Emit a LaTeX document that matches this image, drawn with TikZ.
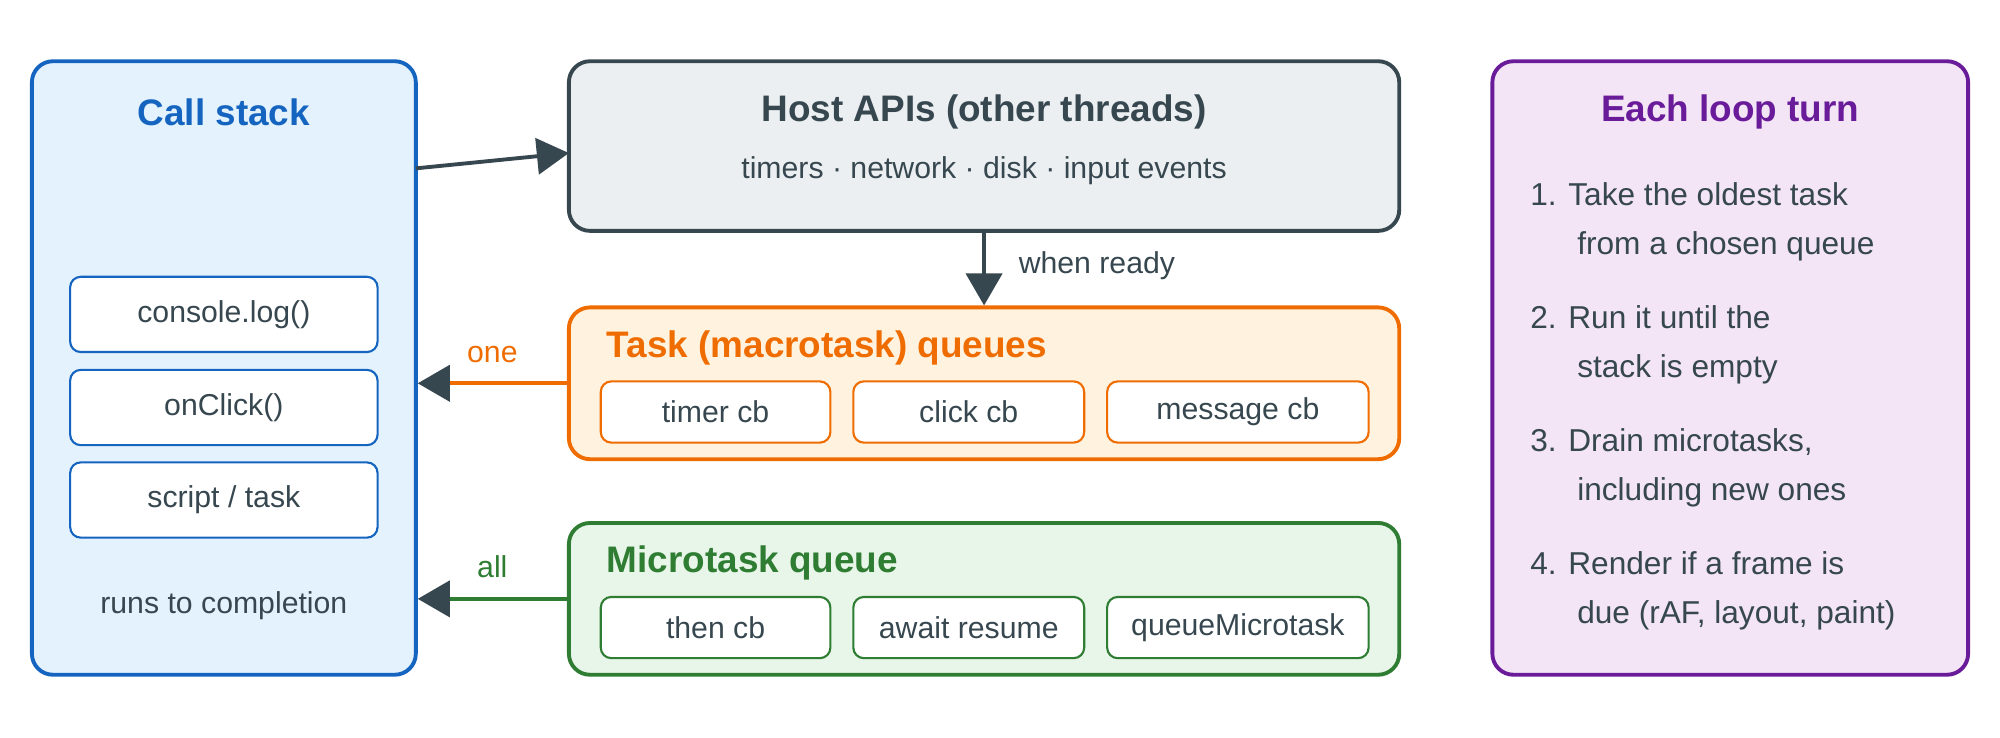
\documentclass[tikz,border=0pt]{standalone}
\usepackage{fontspec}
\setmainfont{Liberation Sans}
\usetikzlibrary{arrows.meta}
\definecolor{ink}{HTML}{37474F}
\definecolor{bluec}{HTML}{1565C0}\definecolor{bluef}{HTML}{E3F2FD}
\definecolor{greyf}{HTML}{ECEFF1}
\definecolor{orc}{HTML}{EF6C00}\definecolor{orf}{HTML}{FFF3E0}
\definecolor{grc}{HTML}{2E7D32}\definecolor{grf}{HTML}{E8F5E9}
\definecolor{puc}{HTML}{6A1B9A}\definecolor{puf}{HTML}{F3E5F5}
\newcommand\px[1]{#1*0.012755cm}
\tikzset{
  panel/.style 2 args={draw=#1, fill=#2, line width=1.1pt, rounded corners=6pt},
  item/.style={draw=#1, fill=white, line width=0.6pt, rounded corners=3pt,
               text=ink, font=\fontsize{8.6}{10}\selectfont},
  head/.style={font=\bfseries\fontsize{10.5}{12}\selectfont, text=#1},
  body/.style={font=\fontsize{8.6}{10}\selectfont, text=ink},
  arr/.style={line width=1.1pt, draw=#1,
              -{Triangle[length=0.32cm, width=0.36cm, color=ink]}},
}
\begin{document}
\begin{tikzpicture}[x=0.012755cm, y=-0.012755cm]
  \useasboundingbox (0,0) rectangle (1568,578);

  % call stack
  \node[panel={bluec}{bluef}, minimum width={\px{301}}, minimum height={\px{481}}]
      (Stack) at (175.5,288.5) {};
  \node[head=bluec] (StackT) at (175.5,88) {Call stack};
  \node[item=bluec, minimum width={\px{241}}, minimum height={\px{59}}]
      (Log) at (175.5,246.5) {console.log()};
  \node[item=bluec, minimum width={\px{241}}, minimum height={\px{59}}]
      (Click) at (175.5,319.5) {onClick()};
  \node[item=bluec, minimum width={\px{241}}, minimum height={\px{59}}]
      (Script) at (175.5,392) {script / task};
  \node[body] (Runs) at (175.5,475) {runs to completion};

  % host
  \node[panel={ink}{greyf}, minimum width={\px{651}}, minimum height={\px{133}}]
      (Host) at (771.5,114.5) {};
  \node[head=ink] (HostT) at (771.5,88) {Host APIs (other threads)};
  \node[body] (HostS) at (771.5,134) {timers · network · disk · input events};

  % task queue
  \node[panel={orc}{orf}, minimum width={\px{651}}, minimum height={\px{119}}]
      (Task) at (771.5,300.5) {};
  \node[head=orc, anchor=west] (TaskT) at (466,273) {Task (macrotask) queues};
  \node[item=orc, minimum width={\px{180}}, minimum height={\px{48}}] (T1) at (561,323) {timer cb};
  \node[item=orc, minimum width={\px{181}}, minimum height={\px{48}}] (T2) at (759.5,323) {click cb};
  \node[item=orc, minimum width={\px{205}}, minimum height={\px{48}}] (T3) at (970.5,323) {message cb};

  % microtask queue
  \node[panel={grc}{grf}, minimum width={\px{651}}, minimum height={\px{119}}]
      (Micro) at (771.5,469.5) {};
  \node[head=grc, anchor=west] (MicroT) at (466,441) {Microtask queue};
  \node[item=grc, minimum width={\px{180}}, minimum height={\px{48}}] (M1) at (561,492) {then cb};
  \node[item=grc, minimum width={\px{181}}, minimum height={\px{48}}] (M2) at (759.5,492) {await resume};
  \node[item=grc, minimum width={\px{205}}, minimum height={\px{48}}] (M3) at (970.5,492) {queueMicrotask};

  % loop
  \node[panel={puc}{puf}, minimum width={\px{373}}, minimum height={\px{481}}]
      (Loop) at (1356.5,288.5) {};
  \node[head=puc] (LoopT) at (1356.5,88) {Each loop turn};
  \foreach \n/\a/\b [count=\i] in {1/Take the oldest task/from a chosen queue,
      2/Run it until the/stack is empty,
      3/{Drain microtasks,}/including new ones,
      4/Render if a frame is/{due (rAF, layout, paint)}}
    \node[body, anchor=west, align=left, font=\fontsize{9}{14}\selectfont]
      (Step\i) at (1190,{174+(\i-1)*96.3}) {\n. \a\\\hspace*{0.47cm}\b};

  % connectors
  \coordinate (hs) at (326,132);
  \coordinate (he) at (446,120);
  \draw[arr=ink] (hs) -- (he);
  \draw[arr=ink] (Host.south) -- (Task.north)
      node[pos=0.45, right=6pt, body] {when ready};
  \draw[arr=orc] (Task.west) -- (Task.west -| Stack.east)
      node[midway, above=2pt, body, text=orc] {one};
  \draw[arr=grc] (Micro.west) -- (Micro.west -| Stack.east)
      node[midway, above=2pt, body, text=grc] {all};
\end{tikzpicture}
\end{document}
